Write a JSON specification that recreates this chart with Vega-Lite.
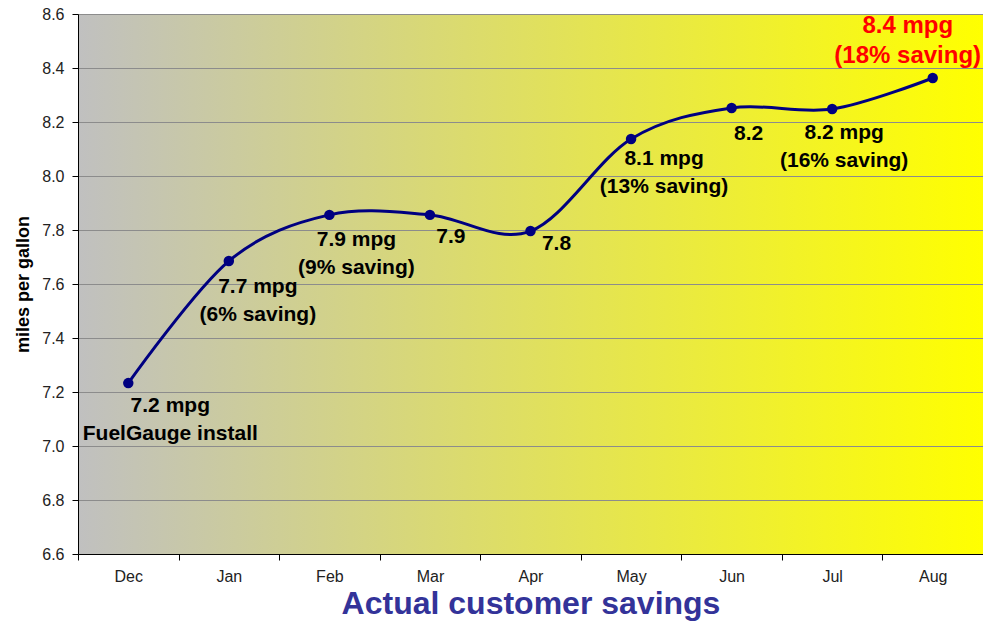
{
  "$schema": "https://vega.github.io/schema/vega-lite/v6.json",
  "width": 905,
  "height": 540,
  "autosize": {"type": "none"},
  "padding": {"left": 78, "top": 14, "right": 0, "bottom": 69},
  "background": "white",
  "config": {
    "font": "Liberation Sans",
    "view": {
      "stroke": null,
      "fill": {"gradient": "linear", "x1": 0, "y1": 0, "x2": 1, "y2": 0,
        "stops": [{"offset": 0, "color": "#c0c0c0"}, {"offset": 1, "color": "#ffff00"}]}
    }
  },
  "data": {
    "values": [
      {"month": "Dec", "mpg": 7.233, "label": "7.2 mpg\nFuelGauge install"},
      {"month": "Jan", "mpg": 7.685, "label": "7.7 mpg\n(6% saving)"},
      {"month": "Feb", "mpg": 7.856, "label": "7.9 mpg\n(9% saving)"},
      {"month": "Mar", "mpg": 7.856, "label": "7.9"},
      {"month": "Apr", "mpg": 7.796, "label": "7.8"},
      {"month": "May", "mpg": 8.137, "label": "8.1 mpg\n(13% saving)"},
      {"month": "Jun", "mpg": 8.252, "label": "8.2"},
      {"month": "Jul", "mpg": 8.248, "label": "8.2 mpg\n(16% saving)"},
      {"month": "Aug", "mpg": 8.363, "label": "8.4 mpg\n(18% saving)"}
    ]
  },
  "encoding": {
    "x": {
      "field": "month", "type": "ordinal",
      "sort": ["Dec", "Jan", "Feb", "Mar", "Apr", "May", "Jun", "Jul", "Aug"],
      "scale": {"type": "band", "paddingInner": 0, "paddingOuter": 0},
      "axis": {
        "tickBand": "extent", "labelAngle": 0, "labelFontSize": 16, "labelColor": "#222222",
        "tickSize": 6, "tickColor": "#000000", "domainColor": "#000000", "labelPadding": 8,
        "grid": false, "title": "Actual customer savings", "titleFontSize": 32,
        "titleColor": "#333399", "titleFontWeight": "bold", "titlePadding": 4
      }
    },
    "y": {
      "field": "mpg", "type": "quantitative",
      "scale": {"domain": [6.6, 8.6], "zero": false, "nice": false},
      "axis": {
        "values": [6.6, 6.8, 7.0, 7.2, 7.4, 7.6, 7.8, 8.0, 8.2, 8.4, 8.6],
        "format": ".1f", "labelFontSize": 16, "labelColor": "#222222",
        "tickSize": 6, "tickColor": "#000000", "domainColor": "#000000", "labelPadding": 8,
        "gridColor": "#8c8c8c", "gridOpacity": 1,
        "title": "miles per gallon", "titleFontSize": 18, "titleFontWeight": "bold",
        "titleColor": "#000000", "titlePadding": 9
      }
    }
  },
  "layer": [
    {"mark": {"type": "line", "interpolate": "cardinal", "color": "#000080", "strokeWidth": 3}},
    {"mark": {"type": "point", "filled": true, "size": 110, "color": "#000080", "opacity": 1}},
    {"transform": [{"filter": "datum.month == 'Dec'"}],
     "mark": {"type": "text", "align": "center", "baseline": "top", "dx": 42, "dy": 12, "fontSize": 21, "fontWeight": "bold", "lineBreak": "\n", "lineHeight": 28, "color": "#000000"},
     "encoding": {"text": {"field": "label"}}},
    {"transform": [{"filter": "datum.month == 'Jan'"}],
     "mark": {"type": "text", "align": "center", "baseline": "top", "dx": 29, "dy": 15, "fontSize": 21, "fontWeight": "bold", "lineBreak": "\n", "lineHeight": 28, "color": "#000000"},
     "encoding": {"text": {"field": "label"}}},
    {"transform": [{"filter": "datum.month == 'Feb'"}],
     "mark": {"type": "text", "align": "center", "baseline": "top", "dx": 27, "dy": 14, "fontSize": 21, "fontWeight": "bold", "lineBreak": "\n", "lineHeight": 28, "color": "#000000"},
     "encoding": {"text": {"field": "label"}}},
    {"transform": [{"filter": "datum.month == 'Mar'"}],
     "mark": {"type": "text", "align": "center", "baseline": "top", "dx": 21, "dy": 11, "fontSize": 21, "fontWeight": "bold", "lineBreak": "\n", "lineHeight": 28, "color": "#000000"},
     "encoding": {"text": {"field": "label"}}},
    {"transform": [{"filter": "datum.month == 'Apr'"}],
     "mark": {"type": "text", "align": "center", "baseline": "top", "dx": 26, "dy": 2, "fontSize": 21, "fontWeight": "bold", "lineBreak": "\n", "lineHeight": 28, "color": "#000000"},
     "encoding": {"text": {"field": "label"}}},
    {"transform": [{"filter": "datum.month == 'May'"}],
     "mark": {"type": "text", "align": "center", "baseline": "top", "dx": 33, "dy": 9, "fontSize": 21, "fontWeight": "bold", "lineBreak": "\n", "lineHeight": 28, "color": "#000000"},
     "encoding": {"text": {"field": "label"}}},
    {"transform": [{"filter": "datum.month == 'Jun'"}],
     "mark": {"type": "text", "align": "center", "baseline": "top", "dx": 17, "dy": 15, "fontSize": 21, "fontWeight": "bold", "lineBreak": "\n", "lineHeight": 28, "color": "#000000"},
     "encoding": {"text": {"field": "label"}}},
    {"transform": [{"filter": "datum.month == 'Jul'"}],
     "mark": {"type": "text", "align": "center", "baseline": "top", "dx": 12, "dy": 13, "fontSize": 21, "fontWeight": "bold", "lineBreak": "\n", "lineHeight": 28, "color": "#000000"},
     "encoding": {"text": {"field": "label"}}},
    {"transform": [{"filter": "datum.month == 'Aug'"}],
     "mark": {"type": "text", "align": "center", "baseline": "top", "dx": -25, "dy": -64, "fontSize": 24, "fontWeight": "bold", "lineBreak": "\n", "lineHeight": 30, "color": "#ff0000"},
     "encoding": {"text": {"field": "label"}}}
  ]
}
